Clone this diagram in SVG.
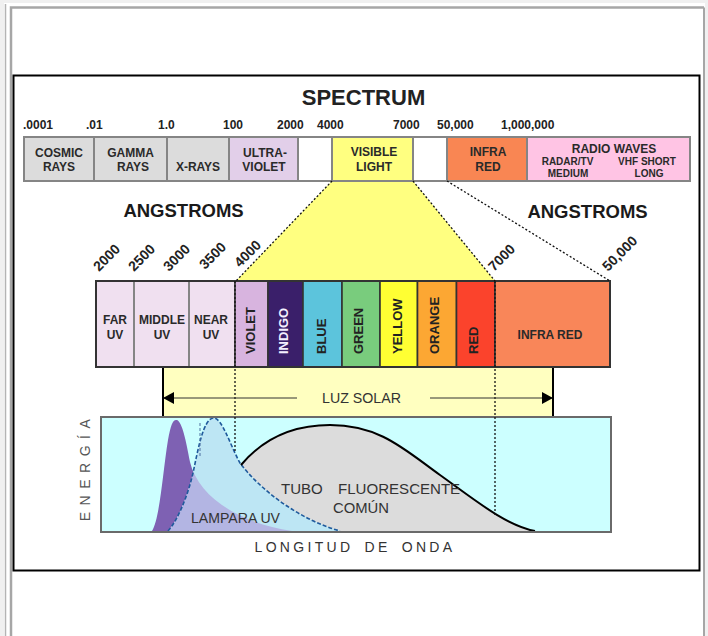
<svg xmlns="http://www.w3.org/2000/svg" width="708" height="636" viewBox="0 0 708 636">
<style>
text{font-family:"Liberation Sans",Arial,sans-serif;}
.b{font-weight:bold;fill:#222;}
.lab{font-size:12px;font-weight:bold;fill:#2a2a2a;text-anchor:middle;}
.sm{font-size:10px;font-weight:bold;fill:#2a2a2a;text-anchor:middle;}
.num{font-size:12px;font-weight:bold;fill:#222;}
.rot{font-size:14px;font-weight:bold;fill:#222;}
.vl{font-size:13px;font-weight:bold;fill:#222;}
.box{stroke:#858585;stroke-width:2;}
.cb{stroke:#333;stroke-width:1.6;}
.big{font-size:18.5px;font-weight:bold;fill:#1a1a1a;text-anchor:middle;}
.thin{font-size:15px;fill:#333;}
.dot{fill:none;stroke:#111;stroke-width:1.3;stroke-dasharray:2 2;}
</style>
<defs>
<marker id="ah" markerWidth="11" markerHeight="12" refX="10" refY="6" orient="auto" markerUnits="userSpaceOnUse">
<path d="M0,0 L11,6 L0,12 Z" fill="#000"/>
</marker>
<clipPath id="lampClip">
<path d="M168 532 C178 520 188 495 193 473 C198 450 203 420 213 418 C222 417 230 445 240 463 C260 490 300 520 340 532 Z"/>
</clipPath>
</defs>

<!-- page frame -->
<rect x="0" y="0" width="708" height="636" fill="#fff"/>
<rect x="0" y="0" width="708" height="3" fill="#f0f0f0"/>
<rect x="0" y="0" width="4" height="636" fill="#f0f0f0"/>
<rect x="705" y="0" width="3" height="636" fill="#f0f0f0"/>
<line x1="5.5" y1="4" x2="5.5" y2="636" stroke="#b4b4b4" stroke-width="1.5"/>
<path d="M11 640 V7.5 H704" fill="none" stroke="#a6a6a6" stroke-width="2.5"/>
<line x1="704" y1="7.5" x2="704" y2="636" stroke="#a6a6a6" stroke-width="2"/>
<rect x="13.5" y="75.5" width="686" height="495" fill="#fff" stroke="#000" stroke-width="2"/>

<text x="363.5" y="105" class="b" font-size="22" text-anchor="middle">SPECTRUM</text>

<g id="scale-top">
<text x="23" y="129" class="num">.0001</text>
<text x="86" y="129" class="num">.01</text>
<text x="158" y="129" class="num">1.0</text>
<text x="223" y="129" class="num">100</text>
<text x="277" y="129" class="num">2000</text>
<text x="317" y="129" class="num">4000</text>
<text x="393" y="129" class="num">7000</text>
<text x="437" y="129" class="num">50,000</text>
<text x="501" y="129" class="num">1,000,000</text>
</g>

<!-- zoom trapezoid -->
<g id="visible-zoom">
<polygon points="332,181 413,181 495,281 236,281" fill="#ffff80"/>
</g>

<g id="cosmic"><rect x="24" y="137" width="70" height="44" fill="#dcdcdc" class="box"/>
<text x="59" y="157" class="lab">COSMIC</text><text x="59" y="171" class="lab">RAYS</text></g>
<g id="gamma"><rect x="94" y="137" width="73" height="44" fill="#dcdcdc" class="box"/>
<text x="130.5" y="157" class="lab">GAMMA</text><text x="133" y="171" class="lab">RAYS</text></g>
<g id="xrays"><rect x="167" y="137" width="62" height="44" fill="#dcdcdc" class="box"/>
<text x="198" y="171" class="lab">X-RAYS</text></g>
<g id="ultraviolet"><rect x="229" y="137" width="69" height="44" fill="#e2cfe9" class="box"/>
<text x="265" y="157" class="lab">ULTRA-</text><text x="264" y="171" class="lab">VIOLET</text></g>
<g id="gap1"><rect x="298" y="137" width="34" height="44" fill="#fff" class="box"/></g>
<g id="visible"><rect x="332" y="137" width="81" height="44" fill="#ffff80" class="box"/>
<text x="374" y="156" class="lab">VISIBLE</text><text x="374" y="171" class="lab">LIGHT</text></g>
<g id="gap2"><rect x="413" y="137" width="34" height="44" fill="#fff" class="box"/></g>
<g id="infrared-top"><rect x="447" y="137" width="80" height="44" fill="#f98653" class="box"/>
<text x="488" y="156" class="lab">INFRA</text><text x="488" y="171" class="lab">RED</text></g>
<g id="radio"><rect x="527" y="137" width="163" height="44" fill="#ffc4e4" class="box"/>
<text x="614" y="153" class="lab" font-size="13">RADIO WAVES</text>
<text x="567.5" y="165" class="sm">RADAR/TV</text><text x="647" y="165" class="sm">VHF SHORT</text>
<text x="568" y="177" class="sm">MEDIUM</text><text x="649" y="177" class="sm">LONG</text></g>

<text x="183.5" y="217" class="big">ANGSTROMS</text>
<text x="587.5" y="218" class="big">ANGSTROMS</text>

<g id="scale-band">
<text class="rot" transform="translate(99,272) rotate(-45)">2000</text>
<text class="rot" transform="translate(134,272) rotate(-45)">2500</text>
<text class="rot" transform="translate(169,272) rotate(-45)">3000</text>
<text class="rot" transform="translate(205,270) rotate(-45)">3500</text>
<text class="rot" transform="translate(240,268) rotate(-45)">4000</text>
<text class="rot" transform="translate(494,272) rotate(-45)">7000</text>
<text class="rot" transform="translate(608,272) rotate(-45)">50,000</text>
</g>

<!-- luz solar band -->
<g id="luz-solar">
<rect x="163" y="367" width="390" height="50" fill="#ffffc0"/>
<line x1="163" y1="367" x2="163" y2="417" stroke="#000" stroke-width="2"/>
<line x1="553" y1="367" x2="553" y2="417" stroke="#000" stroke-width="2"/>
<text x="322" y="402.5" class="thin" textLength="79" lengthAdjust="spacingAndGlyphs">LUZ SOLAR</text>
</g>

<!-- band -->
<g id="far-uv"><rect x="96" y="281" width="38" height="86" fill="#f0e0f0" class="box"/>
<text x="115" y="324" class="lab">FAR</text><text x="115" y="339" class="lab">UV</text></g>
<g id="middle-uv"><rect x="134" y="281" width="55" height="86" fill="#f0e0f0" class="box"/>
<text x="162" y="324" class="lab">MIDDLE</text><text x="162" y="339" class="lab">UV</text></g>
<g id="near-uv"><rect x="189" y="281" width="46" height="86" fill="#f0e0f0" class="box"/>
<text x="211" y="324" class="lab">NEAR</text><text x="211" y="339" class="lab">UV</text></g>
<g id="violet"><rect x="235" y="281" width="33" height="86" fill="#d8b4df" class="cb"/>
<text class="vl" transform="translate(255,354) rotate(-90)">VIOLET</text></g>
<g id="indigo"><rect x="268" y="281" width="35" height="86" fill="#3a1f6a" class="cb"/>
<text class="vl" fill="#fff" style="fill:#f4f0ff" transform="translate(288,354) rotate(-90)">INDIGO</text></g>
<g id="blue"><rect x="303" y="281" width="39" height="86" fill="#5cc4dc" class="cb"/>
<text class="vl" transform="translate(326,354) rotate(-90)">BLUE</text></g>
<g id="green"><rect x="342" y="281" width="38" height="86" fill="#79cc7d" class="cb"/>
<text class="vl" transform="translate(362.5,354) rotate(-90)">GREEN</text></g>
<g id="yellow"><rect x="380" y="281" width="37.5" height="86" fill="#ffff33" class="cb"/>
<text class="vl" transform="translate(402,354) rotate(-90)">YELLOW</text></g>
<g id="orange"><rect x="417.5" y="281" width="39" height="86" fill="#fca733" class="cb"/>
<text class="vl" transform="translate(438.5,354) rotate(-90)">ORANGE</text></g>
<g id="red"><rect x="456.5" y="281" width="38.5" height="86" fill="#fb432c" class="cb"/>
<text class="vl" transform="translate(477.5,354) rotate(-90)">RED</text></g>
<g id="infrared"><rect x="495" y="281" width="115" height="86" fill="#f98659" class="cb"/>
<text x="550" y="339" class="lab" font-size="12.5">INFRA RED</text></g>
<rect x="96" y="281" width="514" height="86" fill="none" stroke="#333" stroke-width="2"/>

<!-- chart -->
<g id="chart">
<rect x="101" y="417" width="510" height="115" fill="#ccffff" stroke="#6a6a6a" stroke-width="2"/>
<path d="M241 465 C262 440 290 425 330 425 C380 425 405 450 440 475 C475 500 505 525 535 531 L535 531 L340 531 C300 520 260 490 240 463 Z" fill="#dcdcdc"/>
<path d="M152 531 C160 518 163 470 168 440 C171 424 173 419 177 420 C182 422 186 440 190 462 C198 495 235 522 292 531 Z" fill="#7e61b3"/>
<path d="M168 531 C178 520 188 495 193 473 C198 450 203 420 213 418 C222 417 230 445 240 463 C260 490 300 520 340 531 Z" fill="#bde6f4"/>
<path d="M152 531 C160 518 163 470 168 440 C171 424 173 419 177 420 C182 422 186 440 190 462 C198 495 235 522 292 531 Z" fill="#b3b5e3" clip-path="url(#lampClip)"/>
<path d="M168 531 C178 520 188 495 193 473 C198 450 203 420 213 418 C222 417 230 445 240 463 C260 490 300 520 340 531" fill="none" stroke="#1f5a9c" stroke-width="1.6" stroke-dasharray="4 2"/>
<line x1="200" y1="423" x2="200" y2="457" stroke="#4d6f9f" stroke-width="1" stroke-dasharray="3 2"/>
<path d="M241 465 C262 440 290 425 330 425 C380 425 405 450 440 475 C475 500 505 525 535 531" fill="none" stroke="#000" stroke-width="2"/>
<rect x="101" y="417" width="510" height="115" fill="none" stroke="#6a6a6a" stroke-width="2"/>
<text x="281" y="493.5" class="thin" textLength="164" lengthAdjust="spacingAndGlyphs">TUBO<tspan x="338">FLUORESCENTE</tspan></text>
<text x="333" y="512.5" class="thin" textLength="56" lengthAdjust="spacingAndGlyphs">COMÚN</text>
<text x="191" y="523" class="thin" textLength="89" lengthAdjust="spacingAndGlyphs">LAMPARA UV</text>
</g>

<text transform="translate(90,467) rotate(-90)" font-size="14" fill="#555" letter-spacing="6.5" text-anchor="middle">ENERGÍA</text>
<text x="355" y="552" font-size="14" fill="#333" letter-spacing="3.3" word-spacing="4" text-anchor="middle">LONGITUD DE ONDA</text>

<g id="connectors">
<line x1="332" y1="181" x2="236" y2="281" class="dot"/>
<line x1="413" y1="181" x2="495" y2="281" class="dot"/>
<line x1="447" y1="181" x2="610" y2="281" class="dot"/>
<line x1="235" y1="281" x2="235" y2="452" class="dot"/>
<line x1="495" y1="281" x2="495" y2="515" class="dot"/>
<line x1="297" y1="398" x2="164" y2="398" stroke="#333" stroke-width="1" marker-end="url(#ah)"/>
<line x1="430" y1="398" x2="552" y2="398" stroke="#333" stroke-width="1" marker-end="url(#ah)"/>
</g>
</svg>
